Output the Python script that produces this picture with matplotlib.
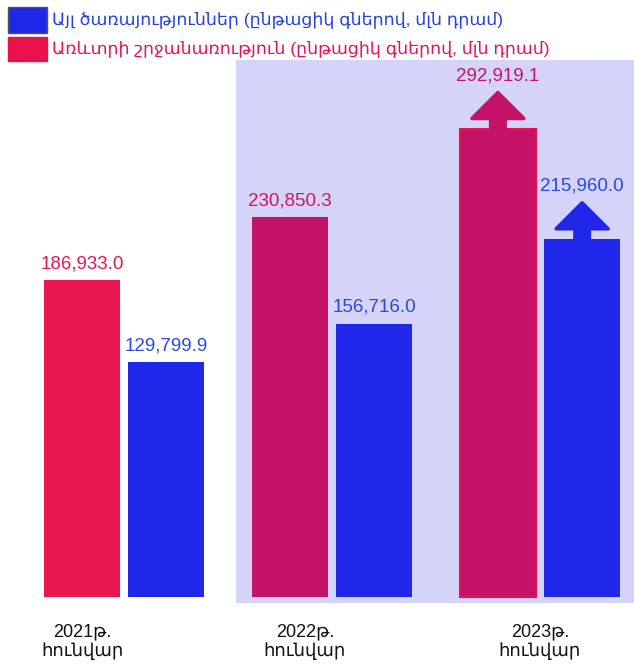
import matplotlib
matplotlib.use("Agg")
import matplotlib.pyplot as plt
import matplotlib.patches as mpatches
import numpy as np

# Data
periods = ["2021թ.\nհունվար", "2022թ.\nհունվար", "2023թ.\nհունվար"]
trade_vals = [186933.0, 230850.3, 292919.1]
services_vals = [129799.9, 156716.0, 215960.0]
trade_label = "Առևտրի շրջանառություն (ընթացիկ գներով, մլն դրամ)"
services_label = "Այլ ծառայություններ (ընթացիկ գներով, մլն դրամ)"

FONT = ["Liberation Sans", "DejaVu Sans"]
plt.rcParams["font.family"] = FONT

W, H = 634, 665
fig = plt.figure(figsize=(W / 100, H / 100), dpi=100)
ax = fig.add_axes([0, 0, 1, 1])

# scale: 1 px = 697.8 units, baseline sits 68 px above the bottom edge
px = 697.8
y0 = -34000
ax.set_ylim(y0 - 68 * px, y0 - 68 * px + H * px)
ax.set_xlim(-124 / 208, (W - 124) / 208)
ax.axis("off")

# shaded band behind the last two years
ax.add_patch(mpatches.Rectangle((236 / W, 62 / H), 1 - 236 / W, 543 / H,
                                transform=ax.transAxes, facecolor="#d5d3f8",
                                edgecolor="none", zorder=0))

x = np.arange(len(periods))
bw, gap = 0.365, 0.04
off = (bw + gap) / 2
red_cols = ["#e8174f", "#c41267", "#c41267"]
red_txt = ["#e8174f", "#d0175a", "#c41267"]
blue_col = "#2127e8"
blue_txt = "#2a48e6"

ax.bar(x - off, np.array(trade_vals) - y0, bottom=y0, width=bw,
       color=red_cols, zorder=2)
ax.bar(x + off, np.array(services_vals) - y0, bottom=y0, width=bw,
       color=blue_col, zorder=2)
# thin red outline on the last trade bar
ax.bar(x[-1] - off, trade_vals[-1] - y0, bottom=y0, width=bw,
       facecolor="none", edgecolor="#e0154f", linewidth=1.5, zorder=3)

# growth arrows on 2023
arrow_len = 36 * px
for xc, v, c in [(x[-1] - off, trade_vals[-1], "#c41267"),
                 (x[-1] + off, services_vals[-1], blue_col)]:
    ax.add_patch(mpatches.FancyArrow(xc, v - 2 * px, 0, arrow_len + 2 * px,
                                     width=0.07, head_width=0.25,
                                     head_length=26 * px,
                                     length_includes_head=True,
                                     facecolor=c, edgecolor=c, linewidth=2.5,
                                     joinstyle="round", zorder=3))

for i in range(len(periods)):
    extra = arrow_len if i == len(periods) - 1 else 0
    ax.text(x[i] - off, trade_vals[i] + extra + 8 * px, f"{trade_vals[i]:,.1f}",
            ha="center", va="bottom", fontsize=13.5, color=red_txt[i], zorder=4)
    ax.text(x[i] + off, services_vals[i] + extra + 8 * px, f"{services_vals[i]:,.1f}",
            ha="center", va="bottom", fontsize=13.5, color=blue_txt, zorder=4)

label_shift = [-0.2, -0.13, 0.0]
for i, lab in enumerate(periods):
    ax.text(x[i] + label_shift[i], y0 - 26 * px, lab, ha="center", va="top",
            fontsize=13, color="#111111", linespacing=1.2)

# legend
fig.patches.append(mpatches.Rectangle((8 / W, 1 - 33 / H), 39 / W, 26 / H,
                                      transform=fig.transFigure,
                                      facecolor="#2127e8", edgecolor="#555555",
                                      linewidth=1))
fig.patches.append(mpatches.Rectangle((8 / W, 1 - 61 / H), 39 / W, 24 / H,
                                      transform=fig.transFigure,
                                      facecolor="#e8124f", edgecolor="#f01040",
                                      linewidth=1))
fig.text(52 / W, 1 - 20 / H, services_label, ha="left", va="center",
         fontsize=12.5, color="#2440e0")
fig.text(52 / W, 1 - 49 / H, trade_label, ha="left", va="center",
         fontsize=12.5, color="#e8124f")

fig.savefig("out.png", dpi=100, facecolor="white")
